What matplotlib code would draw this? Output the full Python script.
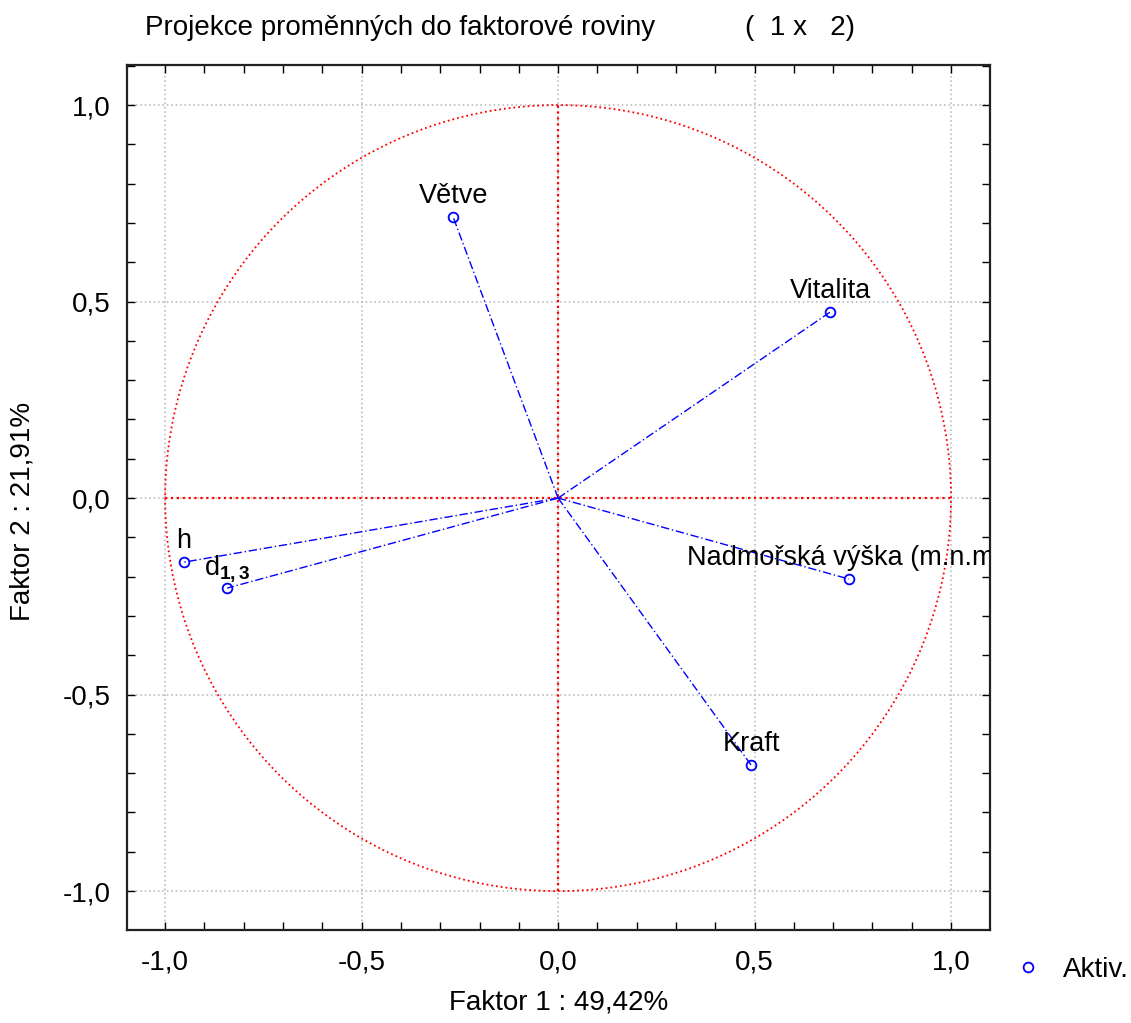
import numpy as np
import matplotlib
matplotlib.use('Agg')
import matplotlib.pyplot as plt
from matplotlib.ticker import MultipleLocator, FuncFormatter
from matplotlib.transforms import offset_copy

# loadings of the variables on factor 1 / factor 2
promenne = ['Větve', 'Vitalita', 'h', r'd$_\mathbf{1,3}$', 'Nadmořská výška (m.n.m.)', 'Kraft']
faktor1 = [-0.267, 0.692, -0.952, -0.842, 0.740, 0.491]
faktor2 = [0.715, 0.473, -0.163, -0.229, -0.206, -0.679]

plt.rcParams['font.family'] = ['Liberation Sans', 'DejaVu Sans']
plt.rcParams['mathtext.fontset'] = 'custom'
plt.rcParams['mathtext.rm'] = 'Liberation Sans'
plt.rcParams['mathtext.it'] = 'Liberation Sans'
plt.rcParams['mathtext.bf'] = 'Liberation Sans:bold'

fig = plt.figure(figsize=(11.31, 10.23), dpi=100)
ax = fig.add_axes([0.1123, 0.0909, 0.763, 0.8456])

# unit circle and axes
t = np.linspace(0, 2*np.pi, 400)
ax.plot(np.cos(t), np.sin(t), color='red', ls=':', lw=1.3)
ax.plot([-1, 1], [0, 0], color='red', ls=':', lw=1.6)
ax.plot([0, 0], [-1, 1], color='red', ls=':', lw=1.6)

popis = offset_copy(ax.transData, fig=fig, x=0, y=10, units='points')
for x, y, lab in zip(faktor1, faktor2, promenne):
    ax.plot([0, x], [0, y], color='blue', lw=1.0, ls=(0, (6, 2, 1, 2)))
    ax.plot(x, y, 'o', mfc='none', mec='blue', ms=7, mew=1.3)
    txt = ax.text(x, y, lab, transform=popis, ha='center', va='baseline',
                  fontsize=19.5, color='black', clip_on=True)
    txt.set_clip_box(ax.bbox)

ax.set_xlim(-1.097, 1.099)
ax.set_ylim(-1.099, 1.102)

ax.xaxis.set_major_locator(MultipleLocator(0.5))
ax.yaxis.set_major_locator(MultipleLocator(0.5))
ax.xaxis.set_minor_locator(MultipleLocator(0.1))
ax.yaxis.set_minor_locator(MultipleLocator(0.1))
fmt = FuncFormatter(lambda v, p: ('%.1f' % v).replace('.', ',').replace('-0,0', '0,0'))
ax.xaxis.set_major_formatter(fmt)
ax.yaxis.set_major_formatter(fmt)
ax.tick_params(which='both', direction='in', top=True, right=True, length=6, width=1, color='black',
               labelsize=20)
ax.tick_params(axis='x', pad=14)
ax.tick_params(axis='y', pad=12)

ax.grid(True, which='major', color='#bdbdbd', ls=':', lw=1.2)
for s in ax.spines.values():
    s.set_linewidth(1.6)
    s.set_color('#222222')

ax.set_xlabel('Faktor 1 : 49,42%', fontsize=20, labelpad=10)
ax.set_ylabel('Faktor 2 : 21,91%', fontsize=20)
ax.yaxis.set_label_coords(36/1131, 0.5, transform=fig.transFigure)

fig.text(145/1131, 1 - 28/1023, 'Projekce proměnných do faktorové roviny',
         fontsize=20, va='center', ha='left')
fig.text(745/1131, 1 - 28/1023, '(  1 x   2)', fontsize=20, va='center', ha='left')

h = ax.plot([], [], 'o', mfc='none', mec='blue', ms=7, mew=1.3)[0]
fig.legend([h], ['Aktiv.'], loc='center left', bbox_to_anchor=(1014/1131, 1 - 970/1023),
           frameon=False, fontsize=20, handlelength=1.0,
           handletextpad=0.75, borderpad=0, borderaxespad=0)

fig.savefig('out.png', dpi=100)
